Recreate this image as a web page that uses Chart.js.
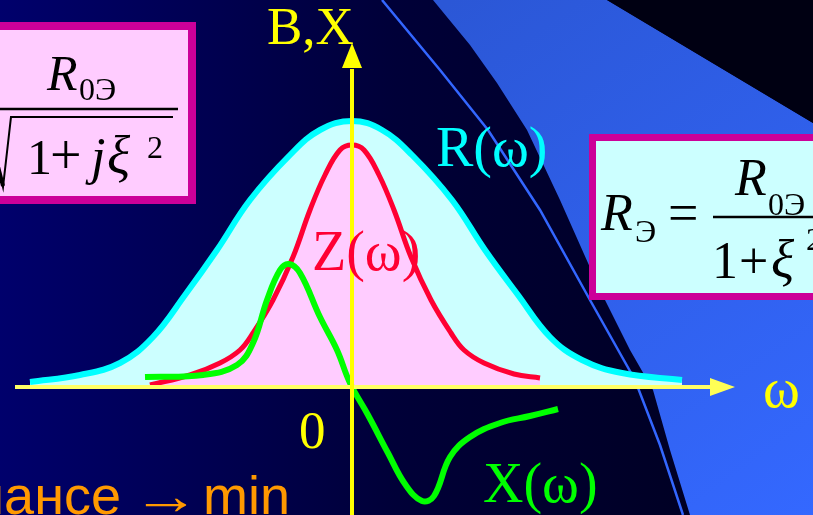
<!DOCTYPE html>
<html lang="ru">
<head>
<meta charset="UTF-8">
<title>Z(ω), R(ω), X(ω)</title>
<script src="https://cdn.jsdelivr.net/npm/chart.js"></script>
<style>
  html, body { margin: 0; padding: 0; background: #000040; overflow: hidden; }
  #wrap { position: relative; width: 813px; height: 515px; }
</style>
</head>
<body>
<div id="wrap"><canvas id="chart" width="813" height="515"></canvas></div>
<script>
// ω on the horizontal axis, B,X on the vertical one (1 unit = 100 px of the slide)
const rOmega = [-3.22, -2.72, -2.32, -1.99, -1.67, -1.35, -1.02, -0.62, -0.32, 0, 0.30, 0.60, 1.00, 1.33, 1.66, 1.98, 2.30, 2.70, 3.30];
const rValues = [0.05, 0.12, 0.24, 0.50, 0.92, 1.37, 1.87, 2.32, 2.57, 2.66, 2.57, 2.32, 1.87, 1.37, 0.92, 0.50, 0.27, 0.14, 0.07];

const zOmega = [-2.02, -1.62, -1.32, -1.12, -0.99, -0.79, -0.59, -0.42, -0.27, -0.12, 0, 0.12, 0.27, 0.42, 0.59, 0.79, 0.99, 1.12, 1.32, 1.62, 1.88];
const zValues = [0.02, 0.12, 0.24, 0.37, 0.54, 0.87, 1.30, 1.77, 2.12, 2.37, 2.42, 2.37, 2.12, 1.77, 1.30, 0.87, 0.54, 0.37, 0.24, 0.13, 0.09];

const xOmega = [-2.07, -1.49, -1.15, -0.99, -0.85, -0.72, -0.63, -0.52, -0.32, -0.15, -0.02, 0.16, 0.36, 0.53, 0.70, 0.82, 0.98, 1.18, 1.48, 1.78, 2.06];
const xValues = [0.10, 0.12, 0.22, 0.44, 0.87, 1.17, 1.23, 1.14, 0.70, 0.37, 0.04, -0.28, -0.66, -0.97, -1.14, -1.09, -0.70, -0.50, -0.36, -0.29, -0.22];

// slide backdrop, same units
const blueOmega = [0.81, 1.18, 1.45, 1.75, 2.08, 2.48, 2.78, 3.01, 3.18, 3.38, 4.61, 4.61, 2.55];
const blueLevel = [3.87, 3.42, 3.04, 2.57, 1.87, 0.97, 0.37, -0.03, -0.63, -1.28, -1.28, 2.64, 3.87];
const cornerOmega = [2.55, 4.61, 4.61];
const cornerLevel = [3.87, 2.64, 3.87];
const streakOmega = [0.30, 0.88, 1.36, 1.88, 2.38, 2.83, 3.08, 3.31];
const streakLevel = [3.87, 3.17, 2.57, 1.77, 0.87, 0.07, -0.58, -1.28];

const toPoints = (ws, vs) => ws.map((w, i) => ({ x: w, y: vs[i] }));

function path(ctx, chart, ws, vs) {
  const sx = chart.scales.x, sy = chart.scales.y;
  ctx.beginPath();
  ws.forEach((w, i) => {
    const X = sx.getPixelForValue(w), Y = sy.getPixelForValue(vs[i]);
    if (i) ctx.lineTo(X, Y); else ctx.moveTo(X, Y);
  });
}

function txt(ctx, s, x, y, font, color, align) {
  ctx.font = font;
  ctx.fillStyle = color;
  ctx.textAlign = align || 'left';
  ctx.textBaseline = 'alphabetic';
  ctx.fillText(s, x, y);
}

const SERIF = "'Liberation Serif', 'Times New Roman', serif";

const backdrop = {
  id: 'backdrop',
  beforeDraw(chart) {
    const ctx = chart.ctx;
    ctx.save();
    let g = ctx.createLinearGradient(0, 0, 720, 0);
    g.addColorStop(0, '#00006c');
    g.addColorStop(0.55, '#000038');
    g.addColorStop(1, '#000022');
    ctx.fillStyle = g;
    ctx.fillRect(0, 0, chart.width, chart.height);

    path(ctx, chart, blueOmega, blueLevel);
    ctx.closePath();
    g = ctx.createLinearGradient(450, 0, 813, 515);
    g.addColorStop(0, '#2b57d6');
    g.addColorStop(1, '#3468ff');
    ctx.fillStyle = g;
    ctx.fill();

    path(ctx, chart, cornerOmega, cornerLevel);
    ctx.closePath();
    ctx.fillStyle = '#000012';
    ctx.fill();

    path(ctx, chart, streakOmega, streakLevel);
    ctx.strokeStyle = '#3366ff';
    ctx.lineWidth = 2.5;
    ctx.stroke();
    ctx.restore();
  }
};

const axes = {
  id: 'axes',
  afterDatasetsDraw(chart) {
    const ctx = chart.ctx, sx = chart.scales.x, sy = chart.scales.y;
    const x0 = sx.getPixelForValue(0), y0 = sy.getPixelForValue(0);
    ctx.save();
    // ω axis
    ctx.strokeStyle = '#ffff66';
    ctx.lineWidth = 4;
    ctx.beginPath();
    ctx.moveTo(sx.getPixelForValue(-3.37), y0);
    ctx.lineTo(sx.getPixelForValue(3.62), y0);
    ctx.stroke();
    const tipX = sx.getPixelForValue(3.83), baseX = sx.getPixelForValue(3.58);
    ctx.fillStyle = '#ffff55';
    ctx.beginPath();
    ctx.moveTo(tipX, y0);
    ctx.lineTo(baseX, y0 - 9);
    ctx.lineTo(baseX, y0 + 9);
    ctx.closePath();
    ctx.fill();
    // B,X axis
    ctx.strokeStyle = '#ffff00';
    ctx.beginPath();
    ctx.moveTo(x0, chart.height);
    ctx.lineTo(x0, sy.getPixelForValue(3.18));
    ctx.stroke();
    const tipY = sy.getPixelForValue(3.44), baseY = sy.getPixelForValue(3.19);
    ctx.fillStyle = '#ffff00';
    ctx.beginPath();
    ctx.moveTo(x0, tipY);
    ctx.lineTo(x0 - 10, baseY);
    ctx.lineTo(x0 + 10, baseY);
    ctx.closePath();
    ctx.fill();
    ctx.restore();
  }
};

const labels = {
  id: 'labels',
  afterDraw(chart) {
    const ctx = chart.ctx;
    ctx.save();
    // left formula box
    ctx.fillStyle = '#cc0099';
    ctx.fillRect(-10, 22, 206, 182);
    ctx.fillStyle = '#ffccff';
    ctx.fillRect(-10, 30, 198, 166);
    txt(ctx, 'R', 47, 90, 'italic 50px ' + SERIF, '#000');
    txt(ctx, '0Э', 79, 100, '32px ' + SERIF, '#000');
    ctx.strokeStyle = '#000';
    ctx.lineWidth = 2.5;
    ctx.beginPath();
    ctx.moveTo(-5, 109); ctx.lineTo(178, 109);
    ctx.stroke();
    ctx.lineWidth = 2;
    ctx.beginPath();
    ctx.moveTo(-14, 152); ctx.lineTo(-7, 146);
    ctx.lineTo(3, 187); ctx.lineTo(11, 117); ctx.lineTo(173, 117);
    ctx.stroke();
    ctx.lineWidth = 4;
    ctx.beginPath();
    ctx.moveTo(-7, 147); ctx.lineTo(3, 186);
    ctx.stroke();
    txt(ctx, '1', 27, 174, '50px ' + SERIF, '#000');
    txt(ctx, '+', 50, 174, '56px ' + SERIF, '#000');
    txt(ctx, 'j', 91, 174, 'italic 52px ' + SERIF, '#000');
    txt(ctx, 'ξ', 107, 174, 'italic 54px ' + SERIF, '#000');
    txt(ctx, '2', 147, 158, '32px ' + SERIF, '#000');

    // right formula box
    ctx.fillStyle = '#cc0099';
    ctx.fillRect(589, 134, 240, 166);
    ctx.fillStyle = '#ccffff';
    ctx.fillRect(596, 141, 240, 152);
    txt(ctx, 'R', 601, 230, 'italic 52px ' + SERIF, '#000');
    txt(ctx, 'Э', 635, 242, '32px ' + SERIF, '#000');
    txt(ctx, '=', 668, 231, '54px ' + SERIF, '#000');
    txt(ctx, 'R', 735, 195, 'italic 52px ' + SERIF, '#000');
    txt(ctx, '0Э', 768, 215, '32px ' + SERIF, '#000');
    ctx.lineWidth = 2.5;
    ctx.beginPath();
    ctx.moveTo(713, 217); ctx.lineTo(820, 217);
    ctx.stroke();
    txt(ctx, '1', 712, 278, '52px ' + SERIF, '#000');
    txt(ctx, '+', 739, 278, '52px ' + SERIF, '#000');
    txt(ctx, 'ξ', 771, 278, 'italic 54px ' + SERIF, '#000');
    txt(ctx, '2', 806, 250, '32px ' + SERIF, '#000');

    // curve and axis labels
    txt(ctx, 'B,X', 267, 44, '53px ' + SERIF, '#ffff00');
    txt(ctx, 'R(ω)', 436, 166, '56px ' + SERIF, '#00ffff');
    txt(ctx, 'Z(ω)', 312, 270, '56px ' + SERIF, '#ff0033');
    txt(ctx, 'X(ω)', 483, 502, '56px ' + SERIF, '#00ff00');
    txt(ctx, '0', 299, 448, '53px ' + SERIF, '#ffff00');
    txt(ctx, 'ω', 763, 407, '56px ' + SERIF, '#ffff00');

    const SANS = "54px 'Liberation Sans', Arial, sans-serif";
    txt(ctx, 'при резонансе', 121, 514, SANS, '#ff9900', 'right');
    // long arrow, stretched to the width it has on the slide
    ctx.save();
    ctx.font = SANS;
    const aw = ctx.measureText('→').width;
    ctx.translate(132, 0);
    ctx.scale(68 / aw, 1);
    txt(ctx, '→', 0, 514, SANS, '#ff9900');
    ctx.restore();
    txt(ctx, 'min', 203, 514, SANS, '#ff9900');
    ctx.restore();
  }
};

new Chart(document.getElementById('chart'), {
  type: 'scatter',
  data: {
    datasets: [
      {
        label: 'X(ω)',
        data: toPoints(xOmega, xValues),
        showLine: true,
        borderColor: '#00ff00',
        borderWidth: 6,
        tension: 0.4,
        pointRadius: 0,
        fill: false
      },
      {
        label: 'Z(ω)',
        data: toPoints(zOmega, zValues),
        showLine: true,
        borderColor: '#ff0033',
        borderWidth: 5,
        backgroundColor: '#ffccff',
        tension: 0.4,
        pointRadius: 0,
        fill: 'origin'
      },
      {
        label: 'R(ω)',
        data: toPoints(rOmega, rValues),
        showLine: true,
        borderColor: '#00ffff',
        borderWidth: 6,
        backgroundColor: '#ccffff',
        tension: 0.4,
        pointRadius: 0,
        fill: 'origin'
      }
    ]
  },
  options: {
    responsive: false,
    animation: false,
    devicePixelRatio: 1,
    layout: { padding: 0 },
    plugins: { legend: { display: false }, tooltip: { enabled: false } },
    scales: {
      x: { type: 'linear', min: -3.52, max: 4.61, display: false },
      y: { type: 'linear', min: -1.28, max: 3.87, display: false }
    }
  },
  plugins: [backdrop, axes, labels]
});
</script>
</body>
</html>
